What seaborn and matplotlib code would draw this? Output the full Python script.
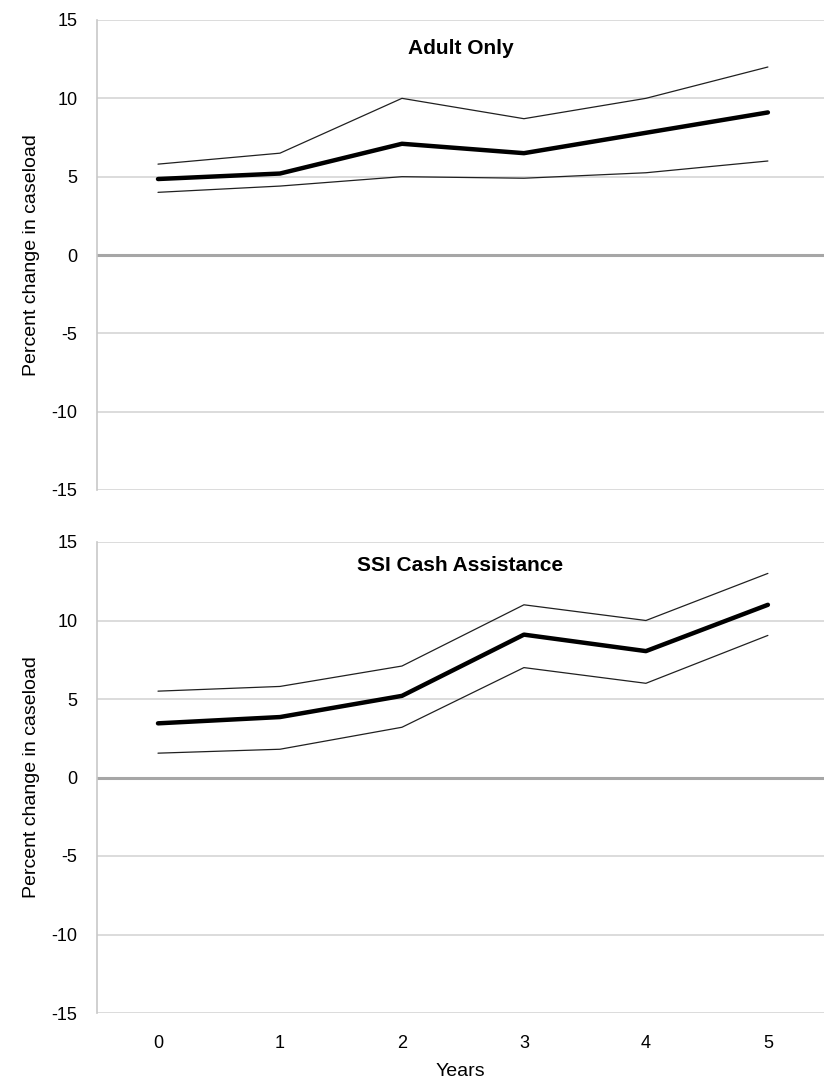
import numpy as np
import pandas as pd
import seaborn as sns
import matplotlib.pyplot as plt

# Years since reform
years = [0, 1, 2, 3, 4, 5]

# Adult Only: estimate with upper and lower bounds
adult_est = [4.85, 5.2, 7.1, 6.5, 7.8, 9.1]
adult_hi = [5.8, 6.5, 10.0, 8.7, 10.0, 12.0]
adult_lo = [4.0, 4.4, 5.0, 4.9, 5.25, 6.0]

# SSI Cash Assistance: estimate with upper and lower bounds
ssi_est = [3.45, 3.85, 5.2, 9.1, 8.05, 11.0]
ssi_hi = [5.5, 5.8, 7.1, 11.0, 10.0, 13.0]
ssi_lo = [1.55, 1.8, 3.2, 7.0, 6.0, 9.05]

panel_titles = ["Adult Only", "SSI Cash Assistance"]
y_ticks = [-15, -10, -5, 0, 5, 10, 15]


def long_frame(est, hi, lo):
    return pd.DataFrame({
        "year": years * 3,
        "value": est + hi + lo,
        "series": ["est"] * 6 + ["hi"] * 6 + ["lo"] * 6,
    })


sns.set_theme(style="white")
plt.rcParams['font.family'] = ['Liberation Sans', 'DejaVu Sans']
plt.rcParams['axes.unicode_minus'] = False
plt.rcParams['text.color'] = 'black'
plt.rcParams['axes.labelcolor'] = 'black'

fig = plt.figure(figsize=(8.24, 10.89), dpi=100)
W, H = 824, 1089
left, right = 97, 824
ax_top = fig.add_axes([left / W, (H - 490) / H, (right - left) / W, 470 / H])
ax_bot = fig.add_axes([left / W, (H - 1013) / H, (right - left) / W, 471 / H])

panels = [(ax_top, adult_est, adult_hi, adult_lo),
          (ax_bot, ssi_est, ssi_hi, ssi_lo)]

for i, (ax, est, hi, lo) in enumerate(panels):
    df = long_frame(est, hi, lo)
    for y in y_ticks:
        if y == 0:
            ax.axhline(y, color="#a6a6a6", lw=2.2, zorder=1)
        else:
            ax.axhline(y, color="#dcdcdc", lw=1.4, zorder=1)
    sns.lineplot(data=df, x="year", y="value", hue="series", size="series",
                 sizes={"est": 3.2, "hi": 0.9, "lo": 0.9},
                 palette={"est": "black", "hi": "#202020", "lo": "#202020"},
                 legend=False, ax=ax, zorder=3)
    ax.set_xlim(-0.5, 5.46)
    ax.set_ylim(-15, 15)
    ax.set_yticks(y_ticks)
    ax.set_xticks(years)
    ax.tick_params(axis="both", length=0, labelsize=13, colors="black")
    ax.tick_params(axis="y", pad=14)
    ax.tick_params(axis="x", pad=16)
    for side in ["top", "right", "bottom"]:
        ax.spines[side].set_visible(False)
    ax.spines["left"].set_color("#c8c8c8")
    ax.spines["left"].set_linewidth(1.2)
    ax.set_ylabel("Percent change in caseload", fontsize=14, labelpad=8)
    ax.text(0.5, 0.94 if i == 0 else 0.95, panel_titles[i], transform=ax.transAxes,
            ha="center", va="center", fontsize=15, fontweight="bold", color="black")

ax_top.set_xticklabels([])
ax_top.set_xlabel("")
ax_bot.set_xlabel("Years", fontsize=14, labelpad=8)

fig.savefig("out.png", dpi=100)
